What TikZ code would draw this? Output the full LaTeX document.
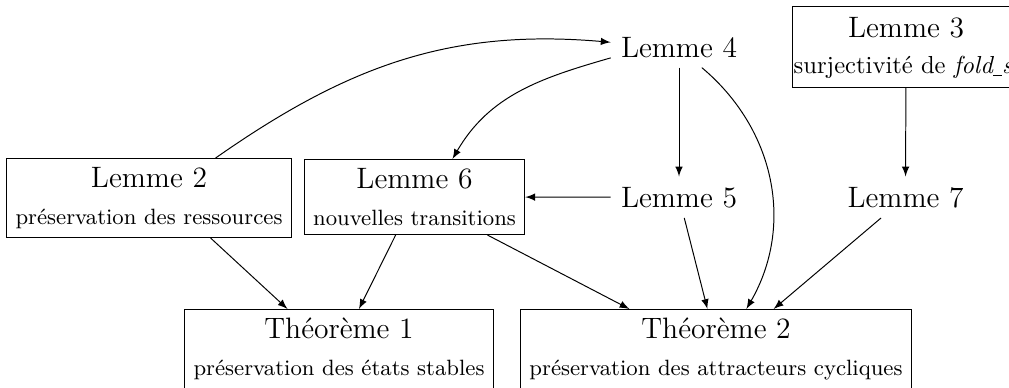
\documentclass[tikz,border=0pt]{standalone}
\begin{document}
\begin{tikzpicture}[x=0.4065pt, y=0.4065pt,
  box/.style={draw, align=center, inner sep=3.6pt, font=\large},
  lem/.style={font=\large, inner sep=4pt},
  arr/.style={-latex}]
\useasboundingbox (0,0) rectangle (1009,-388);
\clip (0,0) rectangle (1009,-388);
\node[box, anchor=north] (L2) at (149,-158) {Lemme 2\\[1pt]{\small préservation des ressources}};
\node[box, anchor=north] (L6) at (414.5,-159) {Lemme 6\\[1pt]{\small nouvelles transitions}};
\node[box, anchor=north] (T1) at (339,-309) {Théorème 1\\[1pt]{\small préservation des états stables}};
\node[box, anchor=north] (T2) at (716,-309) {Théorème 2\\[1pt]{\small préservation des attracteurs cycliques}};
\node[box, anchor=north west, inner xsep=0.5pt, minimum width=92.3pt] (L3) at (792,-6) {Lemme 3\rule{0pt}{9pt}\\[0.5pt]\makebox[91.3pt][l]{\normalsize surjectivité de \textit{fold}\kern-0.3pt\rule[-1.2pt]{3.4pt}{0.4pt}\kern0.2pt\textit{s}}};
\node[lem, anchor=base] (L4) at (679,-57) {Lemme 4};
\node[lem, anchor=base] (L5) at (679,-207) {Lemme 5};
\node[lem, anchor=base] (L7) at (905.5,-207) {Lemme 7};
\draw[arr] (L2.31) to[out=35, in=175] (L4.176);
\draw[arr] (L4.189) to[out=196, in=60] (L6.45);
\draw[arr] (L4) -- (L5);
\draw[arr] (L4.-42) to[out=-40, in=60] (T2.53.9);
\draw[arr] (L5) -- (L6);
\draw[arr] (L3) -- (L7);
\draw[arr] (L2.-33.3) -- (T1.142.6);
\draw[arr] (L6) -- (T1);
\draw[arr] (L6) -- (T2.155.2);
\draw[arr] (L5) -- (T2.102.8);
\draw[arr] (L7) -- (T2.35.4);
\end{tikzpicture}
\end{document}
